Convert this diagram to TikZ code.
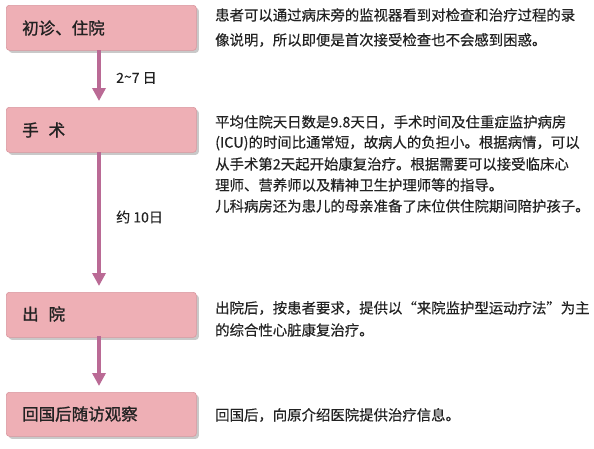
\documentclass[tikz,border=0pt]{standalone}
\usepackage{fontspec}
\setmainfont{Noto Sans CJK SC}[FakeBold=0.35]
\newfontfamily\labfont{Noto Sans CJK SC}[FakeBold=1.2]
\usetikzlibrary{arrows.meta,shadows}
\definecolor{boxfill}{HTML}{EEAFB5}
\definecolor{boxline}{HTML}{D9979F}
\definecolor{arrowc}{HTML}{BA6A95}
\definecolor{txt}{HTML}{222222}
\begin{document}
\begin{tikzpicture}[x=1pt,y=-1pt,
  stagebox/.style={draw=boxline,fill=boxfill,rounded corners=3pt,line width=0.6pt,
    minimum width=190pt,minimum height=45pt,anchor=north west,
    drop shadow={shadow xshift=2.5pt,shadow yshift=-2.5pt,fill=black!35,opacity=0.6}},
  stagetext/.style={anchor=west,inner sep=0pt,text=txt,font=\labfont\fontsize{16.5}{18}\selectfont},
  desc/.style={anchor=west,inner sep=0pt,text=txt,font=\fontsize{14.4}{21}\selectfont},
  flow/.style={draw=arrowc,line width=3.5pt,-{Triangle[length=13pt,width=13pt]}},
  steplabel/.style={anchor=west,inner sep=0pt,text=txt,font=\fontsize{14}{16}\selectfont}]
\useasboundingbox (0,0) rectangle (594,448);
\fill[white] (0,0) rectangle (594,448);
% boxes
\node[stagebox] (b1) at (6,5) {};
\node[stagebox] (b2) at (6,107) {};
\node[stagebox] (b3) at (6,292) {};
\node[stagebox,minimum height=44pt] (b4) at (6,392) {};
\node[stagetext] (t1) at (22,28) {初诊、住院};
\node[stagetext] (t2) at (22,130) {手\hspace{0.6em}术};
\node[stagetext] (t3) at (22,314) {出\hspace{0.6em}院};
\node[stagetext] (t4) at (22,414) {回国后随访观察};
% arrows
\coordinate (a1s) at (99,50);
\coordinate (a1e) at (99,101);
\coordinate (a2s) at (99,152);
\coordinate (a2e) at (99,286);
\coordinate (a3s) at (99,336);
\coordinate (a3e) at (99,386);
\draw[flow] (a1s) -- (a1e);
\draw[flow] (a2s) -- (a2e);
\draw[flow] (a3s) -- (a3e);
\node[steplabel] (l1) at (116,78) {2\raisebox{1pt}{\textasciitilde}7 日};
\node[steplabel] (l2) at (116,217) {约 10日};
% descriptions
\node[desc] (d1a) at (215,15) {患者可以通过病床旁的监视器看到对检查和治疗过程的录};
\node[desc] (d1b) at (215,40) {像说明，所以即便是首次接受检查也不会感到困惑。};
\node[desc] (d2a) at (215,122) {平均住院天日数是9.8天日，手术时间及住重症监护病房};
\node[desc] (d2b) at (215,143) {(ICU)的时间比通常短，故病人的负担小。根据病情，可以};
\node[desc] (d2c) at (215,164) {从手术第2天起开始康复治疗。根据需要可以接受临床心};
\node[desc] (d2d) at (215,185) {理师、营养师以及精神卫生护理师等的指导。};
\node[desc] (d2e) at (215,206) {儿科病房还为患儿的母亲准备了床位供住院期间陪护孩子。};
\node[desc] (d3a) at (215,308) {出院后，按患者要求，提供以“来院监护型运动疗法”为主};
\node[desc] (d3b) at (215,330) {的综合性心脏康复治疗。};
\node[desc] (d4) at (215,415) {回国后，向原介绍医院提供治疗信息。};
\end{tikzpicture}
\end{document}
